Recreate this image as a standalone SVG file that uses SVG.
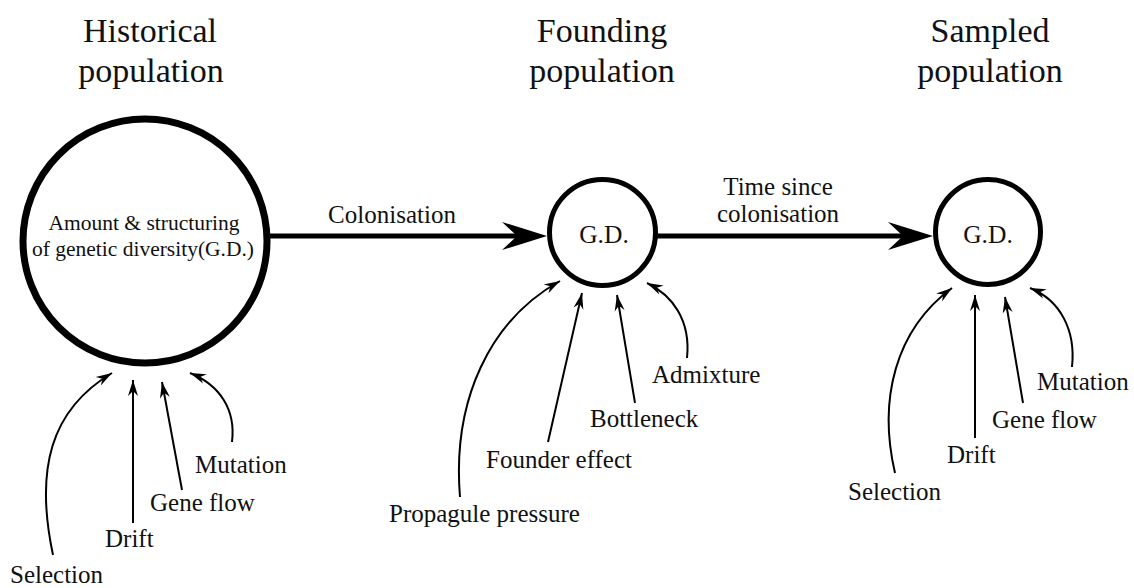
<svg xmlns="http://www.w3.org/2000/svg" width="1134" height="588" viewBox="0 0 1134 588">
<defs>
<marker id="big" markerUnits="userSpaceOnUse" viewBox="-46 -15 47 30" markerWidth="47" markerHeight="30" refX="-30" refY="0" orient="auto">
<path d="M0,0 L-45,-14 L-30,0 L-45,14 Z" fill="#000"/>
</marker>
<marker id="small" markerUnits="userSpaceOnUse" viewBox="-17 -6 18 12" markerWidth="18" markerHeight="12" refX="0" refY="0" orient="auto">
<path d="M0,0 L-16,-5 L-11,0 L-16,5 Z" fill="#000"/>
</marker>
</defs>
<rect width="1134" height="588" fill="#fff"/>

<g id="titles" font-family="Liberation Serif, serif" font-size="34" text-anchor="middle" fill="#111">
<text x="150" y="42">Historical</text>
<text x="151" y="82">population</text>
<text x="602" y="42">Founding</text>
<text x="602" y="82">population</text>
<text x="990" y="42">Sampled</text>
<text x="990" y="82">population</text>
</g>

<g id="connectors" fill="none" stroke="#000">
<g stroke-width="5" marker-end="url(#big)">
<path d="M270,236 H517"/>
<path d="M657,236 H903"/>
</g>
<g stroke-width="2" marker-end="url(#small)">
<path d="M53,555 C35,470 50,410 112,373"/>
<path d="M133,523 V380"/>
<path d="M182,490 L162,382"/>
<path d="M232,442 C236,410 220,385 190,373"/>
<path d="M460,497 C452,400 490,320 560,281"/>
<path d="M548,442 L582,293"/>
<path d="M635,403 L617,295"/>
<path d="M687,358 C691,320 672,295 647,283"/>
<path d="M895,473 C878,400 895,330 952,288"/>
<path d="M975,438 V295"/>
<path d="M1023,403 L1005,297"/>
<path d="M1072,367 C1076,330 1060,300 1030,288"/>
</g>
</g>

<g id="edge-labels" font-family="Liberation Serif, serif" font-size="25" text-anchor="middle" fill="#111">
<text x="392" y="223">Colonisation</text>
<text x="778" y="195">Time since</text>
<text x="778" y="222">colonisation</text>
</g>

<g id="historical">
<circle cx="145" cy="241" r="122" fill="#fff" stroke="#000" stroke-width="7"/>
<g font-family="Liberation Serif, serif" font-size="21.5" text-anchor="middle" fill="#111">
<text x="144" y="230">Amount &amp; structuring</text>
<text x="143" y="256">of genetic diversity(G.D.)</text>
</g>
</g>

<g id="founding">
<circle cx="602.5" cy="232.5" r="53" fill="#fff" stroke="#000" stroke-width="5"/>
<text font-family="Liberation Serif, serif" font-size="25.5" text-anchor="middle" fill="#111" x="604" y="243">G.D.</text>
</g>

<g id="sampled">
<circle cx="988" cy="232" r="52.5" fill="#fff" stroke="#000" stroke-width="5"/>
<text font-family="Liberation Serif, serif" font-size="25.5" text-anchor="middle" fill="#111" x="988" y="243">G.D.</text>
</g>

<g id="historical-factors" font-family="Liberation Serif, serif" font-size="25" fill="#111">
<text x="10" y="583">Selection</text>
<text x="105" y="547">Drift</text>
<text x="150" y="511">Gene flow</text>
<text x="195" y="473">Mutation</text>
</g>

<g id="founding-factors" font-family="Liberation Serif, serif" font-size="25" fill="#111">
<text x="389" y="522">Propagule pressure</text>
<text x="486" y="468">Founder effect</text>
<text x="590" y="427">Bottleneck</text>
<text x="652" y="383">Admixture</text>
</g>

<g id="sampled-factors" font-family="Liberation Serif, serif" font-size="25" fill="#111">
<text x="848" y="500">Selection</text>
<text x="947" y="463">Drift</text>
<text x="992" y="428">Gene flow</text>
<text x="1037" y="390">Mutation</text>
</g>
</svg>
